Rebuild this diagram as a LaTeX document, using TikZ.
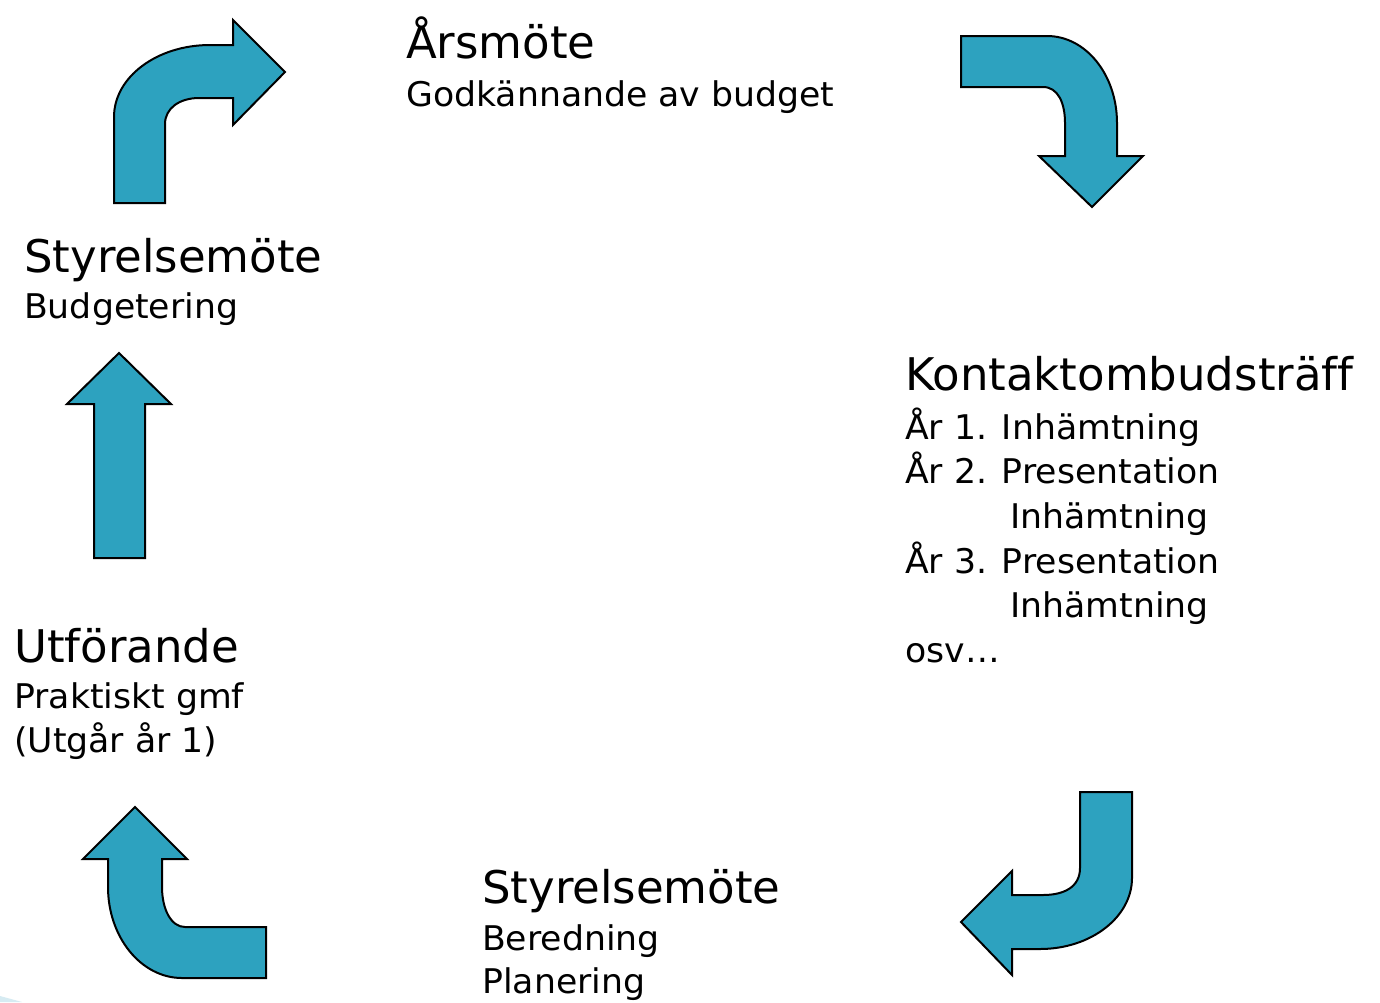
\documentclass[tikz,border=0pt]{standalone}
\usepackage{fontspec}
\setmainfont[Ligatures=NoCommon]{DejaVu Sans}
\newfontfamily\subfontfam[Ligatures=NoCommon,FakeStretch=1.02]{DejaVu Sans}
\definecolor{arrowteal}{HTML}{2DA2BF}
\definecolor{slidefaint}{HTML}{D6EBF2}
\begin{document}
\begin{tikzpicture}[x=1pt,y=-1pt,
  bigarrow/.style={fill=arrowteal,draw=black,line width=2pt,line join=miter},
  titletext/.style={anchor=base west,inner sep=0pt,font=\fontsize{45}{54}\selectfont},
  subtext/.style={anchor=base west,inner sep=0pt,font=\subfontfam\fontsize{34}{40}\selectfont}]
\useasboundingbox (0,0) rectangle (1380,1002);
\fill[white] (0,0) rectangle (1380,1002);
\fill[slidefaint] (0,996) -- (22,1002) -- (0,1002) -- cycle;

% arrows
\draw[bigarrow] (114,203) -- (114,117) .. controls (114,77) and (157,45) .. (210,45)
  -- (233,45) -- (233,20) -- (285,72) -- (233,125) -- (233,98) -- (199,98)
  .. controls (180,98) and (165,108) .. (165,124) -- (165,203) -- cycle;
\draw[bigarrow] (961,36) -- (1047,36) .. controls (1086,36) and (1117,75) .. (1117,123)
  -- (1117,156) -- (1143,156) -- (1092,207) -- (1039,156) -- (1065,156) -- (1065,123)
  .. controls (1065,103) and (1058,87) .. (1043,87) -- (961,87) -- cycle;
\draw[bigarrow] (119,353) -- (171,404) -- (145,404) -- (145,558) -- (94,558) -- (94,404) -- (67,404) -- cycle;
\draw[bigarrow] (1080,792) -- (1132,792) -- (1132,878) .. controls (1132,917) and (1091,949) .. (1040,949)
  -- (1012,949) -- (1012,975) -- (961,922) -- (1012,871) -- (1012,895) -- (1043,895)
  .. controls (1064,895) and (1080,887) .. (1080,868) -- cycle;
\draw[bigarrow] (135,807) -- (187,859) -- (162,859) -- (162,887) .. controls (162,909) and (171,927) .. (185,927)
  -- (266,927) -- (266,978) -- (182,978) .. controls (141,978) and (108,937) .. (108,887)
  -- (108,859) -- (83,859) -- cycle;

% texts
\node[titletext] (arsmote) at (406,58) {Årsmöte};
\node[subtext] (godk) at (406,106) {Godkännande av budget};

\node[titletext] (kontakt) at (905,390) {Kontaktombudsträff};
\node[subtext] (ar1) at (905,439) {År 1. Inhämtning};
\node[subtext] (ar2) at (905,483) {År 2. Presentation};
\node[subtext] (inh2) at (1010,528) {Inhämtning};
\node[subtext] (ar3) at (905,573) {År 3. Presentation};
\node[subtext] (inh3) at (1010,617) {Inhämtning};
\node[subtext] (osv) at (905,662) {osv…};

\node[titletext] (styrB) at (482,903) {Styrelsemöte};
\node[subtext] (bered) at (482,950) {Beredning};
\node[subtext] (plan) at (482,993) {Planering};

\node[titletext] (utf) at (14,662) {Utförande};
\node[subtext] (prakt) at (14,708) {Praktiskt gmf};
\node[subtext] (utgar) at (14,752) {(Utgår år 1)};

\node[titletext] (styrT) at (24,272) {Styrelsemöte};
\node[subtext] (budg) at (24,318) {Budgetering};
\end{tikzpicture}
\end{document}
